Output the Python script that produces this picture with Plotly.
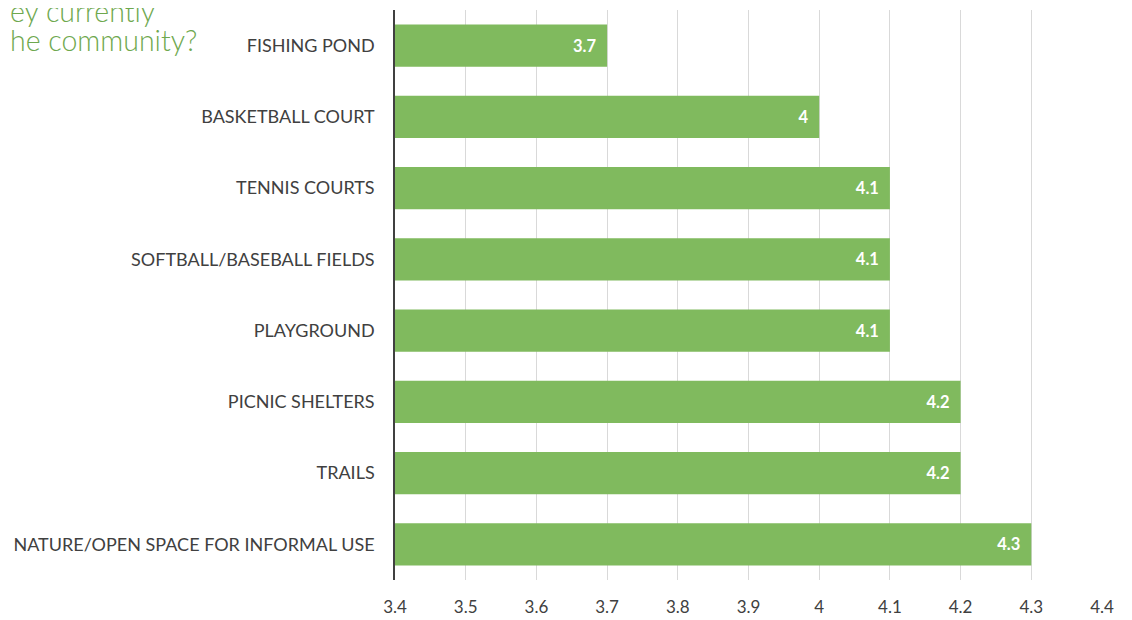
import plotly.graph_objects as go

categories = ["FISHING POND", "BASKETBALL COURT", "TENNIS COURTS", "SOFTBALL/BASEBALL FIELDS",
              "PLAYGROUND", "PICNIC SHELTERS", "TRAILS", "NATURE/OPEN SPACE FOR INFORMAL USE"]
values = [3.7, 4.0, 4.1, 4.1, 4.1, 4.2, 4.2, 4.3]
labels = ["3.7", "4", "4.1", "4.1", "4.1", "4.2", "4.2", "4.3"]
tick_vals = [3.4, 3.5, 3.6, 3.7, 3.8, 3.9, 4.0, 4.1, 4.2, 4.3, 4.4]
tick_text = ["3.4", "3.5", "3.6", "3.7", "3.8", "3.9", "4", "4.1", "4.2", "4.3", "4.4"]
title_lines = ["ey currently", "he community?"]
axis_start = 3.4

fig = go.Figure(go.Bar(
    y=categories, x=[v - axis_start for v in values], base=axis_start, orientation="h",
    marker=dict(color="#80BA5E", line=dict(width=0)),
    text=[t + "&nbsp;&nbsp;" for t in labels], textposition="inside", insidetextanchor="end",
    textfont=dict(color="white", size=16.5, family="Lato", weight="bold"),
    width=0.59, hoverinfo="skip",
))

title_font = dict(family="Lato", size=28.5, color="#6EA84E", weight=300)
fig.update_layout(
    width=1124, height=612,
    margin=dict(l=387, r=30, t=2, b=40),
    plot_bgcolor="white", paper_bgcolor="white",
    showlegend=False,
    xaxis=dict(range=[3.4, 4.4], tickvals=tick_vals, ticktext=tick_text,
               showgrid=True, gridcolor="#D9D9D9", gridwidth=1, zeroline=False,
               showline=False, ticks="", tickfont=dict(family="Lato", size=17, color="#404040"),
               ticklabelstandoff=15),
    yaxis=dict(categoryorder="array", categoryarray=categories[::-1], autorange=False,
               range=[-0.5, 7.5], showline=True, linecolor="#404040", linewidth=1.5,
               ticks="", tickfont=dict(family="Lato", size=18, color="#404040"),
               ticklabelstandoff=15, showgrid=False),
    font=dict(family="Lato"),
    annotations=[
        dict(text=title_lines[0], xref="paper", yref="paper", x=0, y=1, xshift=-387, yshift=18,
             xanchor="left", yanchor="top", showarrow=False, font=title_font),
        dict(text=title_lines[1], xref="paper", yref="paper", x=0, y=1, xshift=-387, yshift=-11,
             xanchor="left", yanchor="top", showarrow=False, font=title_font),
    ],
)
fig.write_html("out.html")
